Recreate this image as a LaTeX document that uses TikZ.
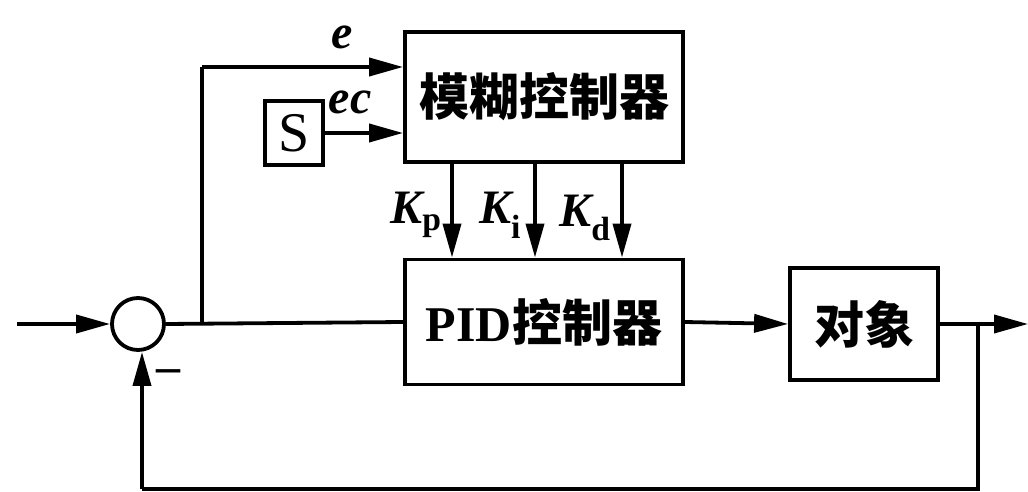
\documentclass[tikz,border=0pt]{standalone}
\usepackage{fontspec}
\setmainfont{Liberation Serif}
\newfontfamily\cjk{Noto Sans CJK SC}
\usetikzlibrary{arrows.meta,calc}
\tikzset{
  blk/.style={draw, line width=3.8pt, inner sep=0pt, font=\fontsize{50}{50}\selectfont\bfseries},
  conn/.style={line width=3.8pt},
  arr/.style={conn, -{Triangle[length=34pt,width=18pt]}},
  lbl/.style={inner sep=0pt, font=\fontsize{48}{48}\selectfont\bfseries\itshape},
}
\begin{document}
\begin{tikzpicture}[x=1pt,y=-1pt]
\useasboundingbox (0,0) rectangle (1028,492);
% blocks
\node[blk, minimum width=278pt, minimum height=130pt] (fuzzy) at (544,97) {\cjk 模糊控制器};
\node[blk, minimum width=278pt, minimum height=125pt] (pid) at (544,322) {PID\cjk 控制器};
\node[blk, minimum width=148pt, minimum height=112pt] (plant) at (864,324) {\cjk 对象};
\node[draw, line width=3.8pt, inner sep=0pt, minimum width=58pt, minimum height=64pt,
      font=\fontsize{56}{56}\selectfont] (s) at (294,133) {S};
\node[draw, circle, line width=3.8pt, minimum size=52pt, inner sep=0pt] (sum) at (138,324) {};
% coordinates
\coordinate (in) at (17,324);
\coordinate (br) at (202,324);
\coordinate (tl) at (202,67);
\coordinate (fb) at (978,324);
\coordinate (out) at (1028,324);
\coordinate (fbd) at (978,489);
\coordinate (fbl) at (142,489);
% connectors
\draw[arr] (in) -- (sum.west);
\draw[conn] (sum.east) -- (pid.west);
\draw[conn] (br) -- (tl);
\draw[arr] (tl) -- (tl -| fuzzy.west);
\draw[arr] (s.east) -- (s.east -| fuzzy.west);
\draw[arr] (452,0 |- fuzzy.south) -- (452,0 |- pid.north);
\draw[arr] (535,0 |- fuzzy.south) -- (535,0 |- pid.north);
\draw[arr] (622,0 |- fuzzy.south) -- (622,0 |- pid.north);
\draw[arr] (pid.east) -- (plant.west);
\draw[arr] (plant.east) -- (out);
\draw[conn] (fb) -- (fbd) -- (fbl);
\draw[arr] (fbl) -- (fbl |- sum.south);
% labels
\node[lbl] (le) at (342,37) {e};
\node[lbl] (lec) at (350,102) {ec};
\node[lbl] (lkp) at (416,215) {K\textsubscript{\upshape p}};
\node[lbl] (lki) at (500,215) {K\textsubscript{\upshape i}};
\node[lbl] (lkd) at (585,218) {K\textsubscript{\upshape d}};
\node[inner sep=0pt, font=\fontsize{48}{48}\selectfont\bfseries] (minus) at (168,376) {–};
\end{tikzpicture}
\end{document}
